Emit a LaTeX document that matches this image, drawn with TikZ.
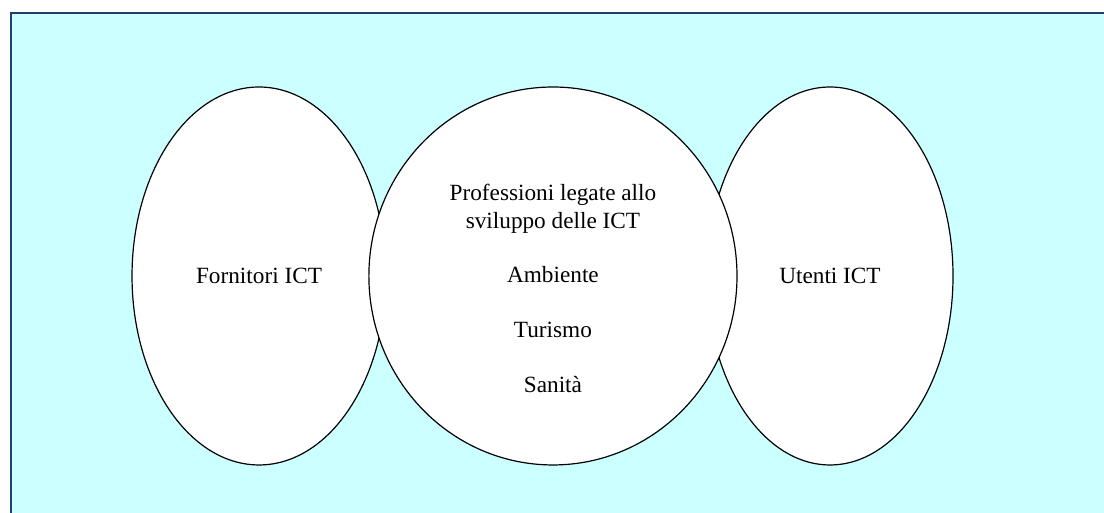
\documentclass[tikz,border=0pt]{standalone}
\usepackage{fontspec}
\setmainfont{Liberation Serif}
\definecolor{bgcyan}{RGB}{204, 255, 255}
\definecolor{frameblue}{RGB}{34, 62, 110}
\usetikzlibrary{shapes.geometric, positioning}

\begin{document}
\begin{tikzpicture}[
  oval/.style={draw, ellipse, fill=white, line width=0.9pt, inner sep=0pt, minimum height=10cm},
  lbl/.style={font=\fontsize{17.5}{20.6}\selectfont, align=center, inner sep=0pt}
]
  \clip (0, 0) rectangle (29.21, 13.573);
  % Background panel
  \draw[line width=1.5pt, frameblue, fill=bgcyan] (0.278, -1) rectangle (31, 13.216);

  % Side ellipses
  \node[oval, minimum width=6.72cm] (forn) at (6.853, 6.271) {};
  \node[oval, minimum width=6.51cm] (uten) at (21.96, 6.271) {};

  % Middle ellipse on top
  \node[oval, minimum width=9.74cm] (mid) at (14.63, 6.271) {};

  % Texts
  \node[lbl] (fornlbl) at (forn.center) {Fornitori ICT};
  \node[lbl] (utenlbl) at (uten.center) {Utenti ICT};
  \node[lbl] (midlbl) at (14.63, 5.94) {Professioni legate allo\\sviluppo delle ICT\\[20.6pt]Ambiente\\[20.6pt]Turismo\\[20.6pt]Sanità};
\end{tikzpicture}
\end{document}
